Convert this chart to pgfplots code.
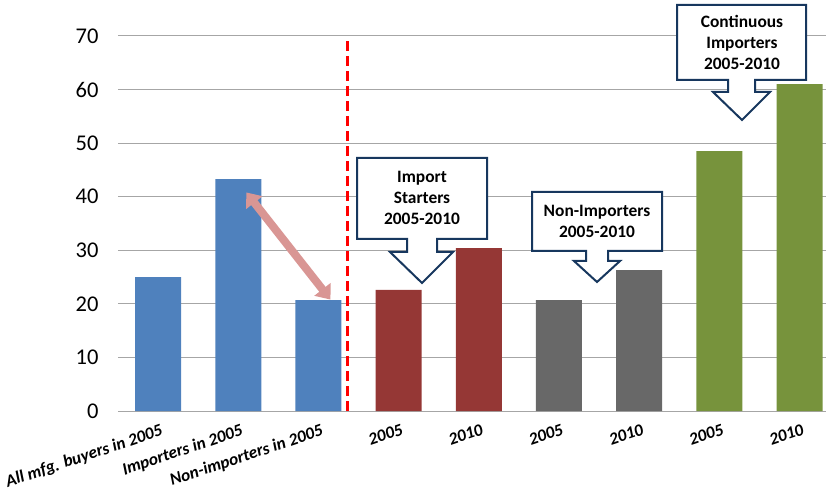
\documentclass[border=0pt]{standalone}
\usepackage{fontspec}
\setmainfont{Carlito}
\usepackage{pgfplots}
\pgfplotsset{compat=1.18}
\usetikzlibrary{arrows.meta}
\definecolor{cblue}{HTML}{4F81BD}
\definecolor{cred}{HTML}{953735}
\definecolor{cgray}{HTML}{686868}
\definecolor{cgreen}{HTML}{77933C}
\definecolor{cnavy}{HTML}{17375E}
\definecolor{cpink}{HTML}{D99694}
\definecolor{cgrid}{HTML}{A6A6A6}
\begin{document}
\begin{tikzpicture}
\begin{axis}[
  at={(0,0)}, anchor=south west,
  scale only axis, width=708pt, height=375pt,
  xmin=-0.5, xmax=8.33, ymin=0, ymax=70,
  ytick={0,10,...,70},
  ymajorgrids, grid style={draw=cgrid, line width=1pt},
  axis line style={draw=none},
  major tick length=0pt,
  /pgf/number format/assume math mode=true,
  xtick={0,...,8},
  xticklabels={All mfg. buyers in 2005, Importers in 2005, Non-importers in 2005, 2005, 2010, 2005, 2010, 2005, 2010},
  xticklabel style={rotate=18.5, anchor=north east, font=\bfseries\itshape\fontsize{17.2}{19}\selectfont, yshift=-9pt, xshift=1pt},
  yticklabel style={font=\fontsize{22.5}{24}\selectfont, xshift=-16pt},
  clip=false,
]
\addplot[ybar, bar width=46pt, fill=cblue, draw=none] coordinates {(0,25.0) (1,43.3) (2,20.7)};
\addplot[ybar, bar width=46pt, fill=cred, draw=none] coordinates {(3,22.6) (4,30.4)};
\addplot[ybar, bar width=46pt, fill=cgray, draw=none] coordinates {(5,20.7) (6,26.3)};
\addplot[ybar, bar width=46pt, fill=cgreen, draw=none] coordinates {(7,48.5) (8,61.0)};
\draw[red, line width=3.5pt, dash pattern=on 10pt off 5pt] (axis cs:2.36,0) -- (axis cs:2.36,69.6);
\draw[cpink, line width=8pt, {Triangle[width=20pt,length=13pt]}-{Triangle[width=20pt,length=13pt]}] (axis cs:1.10,40.8) -- (axis cs:2.15,20.8);
\end{axis}
\begin{scope}[x=1pt, y=1pt]
\draw[cnavy, line width=2pt, fill=white, line join=miter]
  (239,253) -- (369,253) -- (369,172) -- (319,172) -- (319,159) -- (335,159) -- (304,128) -- (272,159) -- (289,159) -- (289,172) -- (239,172) -- cycle;
\node[align=center, font=\bfseries\fontsize{17.4}{21}\selectfont] at (304,213) {Import\\Starters\\2005-2010};
\draw[cnavy, line width=2pt, fill=white, line join=miter]
  (414,219) -- (544,219) -- (544,160) -- (490,160) -- (490,150) -- (502,150) -- (479,129) -- (456,150) -- (468,150) -- (468,160) -- (414,160) -- cycle;
\node[align=center, font=\bfseries\fontsize{17.4}{21}\selectfont] at (479,190) {Non-Importers\\2005-2010};
\draw[cnavy, line width=2pt, fill=white, line join=miter]
  (559,406) -- (688,406) -- (688,331) -- (637,331) -- (637,319) -- (652,319) -- (624,291) -- (595,319) -- (610,319) -- (610,331) -- (559,331) -- cycle;
\node[align=center, font=\bfseries\fontsize{17.4}{21}\selectfont] at (624,369) {Continuous\\Importers\\2005-2010};
\pgfresetboundingbox
\path[use as bounding box] (-118,-89) rectangle (708,411);
\end{scope}
\end{tikzpicture}
\end{document}
